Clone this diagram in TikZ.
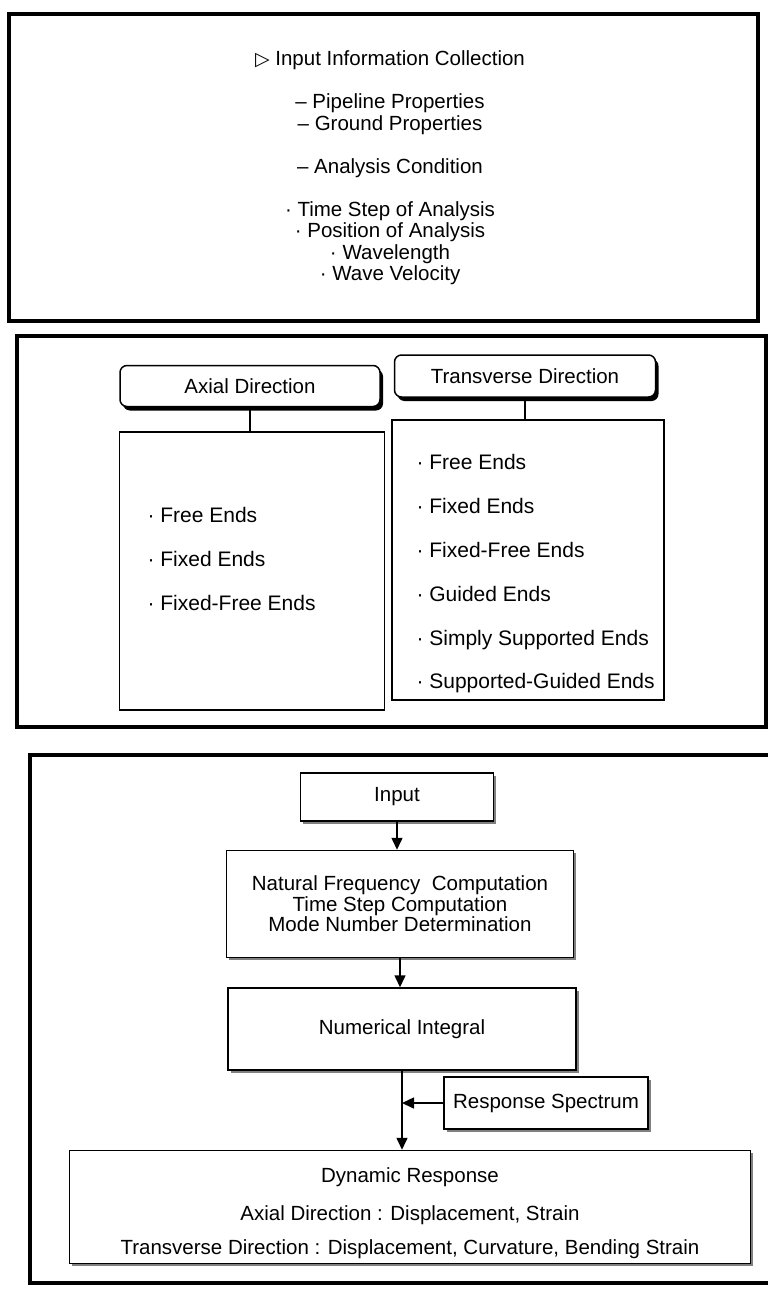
\documentclass[tikz,border=0pt]{standalone}
\usepackage{fontspec}
\setmainfont{Liberation Sans}
\newfontfamily\symfont{DejaVu Sans}
\usetikzlibrary{arrows.meta,shadows}

\begin{document}
\begin{tikzpicture}
[x=1pt, y=-1pt, font=\fontsize{20.5}{21.5}\selectfont,
 panel/.style={draw=black, line width=4pt},
 box/.style={rectangle, draw=black, line width=1.5pt, fill=white, inner sep=0pt, drop shadow={shadow xshift=2.5pt, shadow yshift=-2.5pt, fill=black!50, opacity=1}},
 head/.style={rectangle, rounded corners=7pt, draw=black, line width=1.5pt, fill=white, inner sep=0pt, drop shadow={shadow xshift=3pt, shadow yshift=-4pt, fill=black, opacity=1}},
 list/.style={rectangle, draw=black, line width=1.2pt, inner sep=0pt},
 arrow/.style={-{Triangle[length=12pt, width=11pt]}, line width=1.5pt}]

\useasboundingbox (0,0) rectangle (768,1292);

% three panels
\draw[panel] (9,14) rectangle (758,321);
\draw[panel] (17,336) rectangle (766,727);
\draw[panel] (768,755) -- (30,755) -- (30,1283) -- (768,1283);

% panel 1
\node (1) at (390,168) [align=center] {{\symfont\fontsize{19}{19}\selectfont ▷}\ Input Information Collection\\[21.5pt]
  – Pipeline Properties\\ – Ground Properties\\[21.5pt]
  – Analysis Condition\\[21.5pt]
  · Time Step of Analysis\\ · Position of Analysis\\ · Wavelength\\ · Wave Velocity};

% panel 2
\node[head, minimum width=260, minimum height=41] (2) at (250,386) {Axial Direction};
\node[head, minimum width=261, minimum height=42] (3) at (525,376) {Transverse Direction};
\node[list, minimum width=265, minimum height=278] (4) at (252,571) {};
\node[list, minimum width=272, minimum height=280] (5) at (528,560) {};
\node (6) at (144,559) [anchor=west, align=left, font=\fontsize{21}{44}\selectfont] {· Free Ends\\ · Fixed Ends\\ · Fixed-Free Ends};
\node (7) at (413,574) [anchor=west, align=left, font=\fontsize{21}{43.8}\selectfont] {· Free Ends\\ · Fixed Ends\\ · Fixed-Free Ends\\ · Guided Ends\\ · Simply Supported Ends\\ · Supported-Guided Ends};

\draw[line width=1.2pt] (2.south) -- (2.south |- 4.north);
\draw[line width=1.2pt] (3.south) -- (3.south |- 5.north);

% panel 3
\node[box, minimum width=193, minimum height=48] (8) at (397,797) {Input};
\node[box, minimum width=347, minimum height=107, align=center, font=\fontsize{20.5}{20.5}\selectfont] (9) at (400,904) {Natural Frequency\ \ Computation\\ Time Step Computation\\ Mode Number Determination};
\node[box, minimum width=348, minimum height=82] (10) at (402,1029) {Numerical Integral};
\node[box, minimum width=204, minimum height=52] (11) at (546,1103) {Response Spectrum};
\node[box, minimum width=681, minimum height=113] (12) at (410,1207) {};
\node (13) at (410,1213) [align=center] {Dynamic Response\\[16.5pt]
  Axial Direction : Displacement, Strain\\[12.5pt]
  Transverse Direction : Displacement, Curvature, Bending Strain};

\draw[arrow] (8) -- (8 |- 9.north);
\draw[arrow] (9) -- (9 |- 10.north);
\draw[arrow] (10) -- (10 |- 12.north);
\draw[arrow] (11) -- (11 -| 10.south);
\end{tikzpicture}
\end{document}
